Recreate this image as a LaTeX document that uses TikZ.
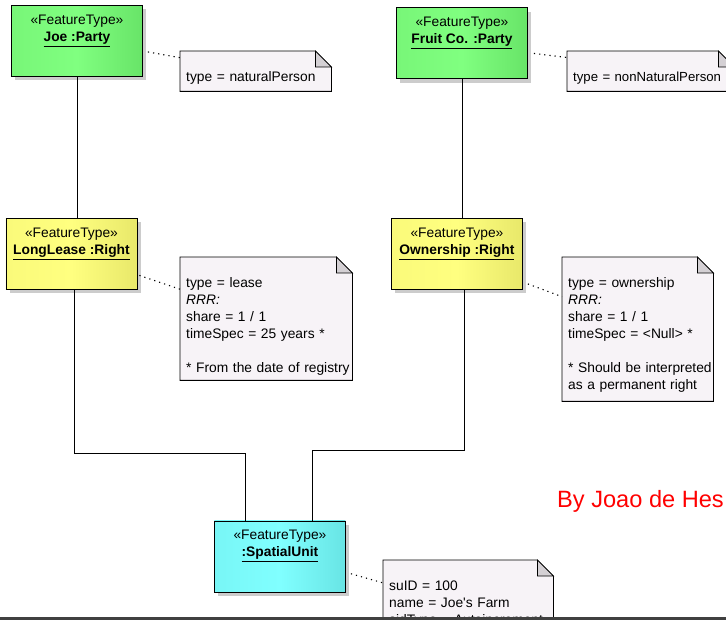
\documentclass[tikz,border=0pt]{standalone}
\usepackage{fontspec}
\setmainfont{Liberation Sans}
\usepackage{tikz}
\usetikzlibrary{shadows}
\usepackage{xcolor}
\definecolor{partyfill}{RGB}{128, 255, 128}
\definecolor{partyleft}{RGB}{120, 246, 120}
\definecolor{partyright}{RGB}{104, 228, 104}
\definecolor{rightfill}{RGB}{255, 255, 128}
\definecolor{rightleft}{RGB}{250, 250, 122}
\definecolor{rightright}{RGB}{232, 232, 106}
\definecolor{unitfill}{RGB}{128, 255, 255}
\definecolor{unitleft}{RGB}{120, 246, 246}
\definecolor{unitright}{RGB}{104, 228, 228}
\definecolor{notefill}{RGB}{247, 243, 247}
\definecolor{foldgray}{RGB}{212, 208, 212}
\newcommand{\umlfont}{\fontsize{13.8}{17}\selectfont}
\newcommand{\feature}[1]{\rule{0pt}{19pt}«FeatureType»\\\underline{\textbf{#1}}\rule[-35pt]{0pt}{35pt}}
\newcommand{\dogear}[1]{%
    \fill[white] ([shift={(-16,0)}]#1.north east) -- ([shift={(0.6,-0.6)}]#1.north east) -- ([shift={(0,16)}]#1.north east) -- cycle;
    \draw[line width=0.8pt] (#1.north west) -- ([shift={(-16,0)}]#1.north east) -- ([shift={(0,16)}]#1.north east) -- (#1.south east) -- (#1.south west) -- cycle;
    \filldraw[fill=foldgray, line width=0.8pt] ([shift={(-16,0)}]#1.north east) -- ([shift={(-16,16)}]#1.north east) -- ([shift={(0,16)}]#1.north east) -- cycle;}

\begin{document}
\begin{tikzpicture}[
            x=1pt, y=-1pt,
            box/.style={
                rectangle,
                draw=black,
                line width=0.9pt,
                left color=#1left,
                right color=#1right,
                middle color=#1fill,
                minimum width=131pt,
                inner xsep=3pt,
                inner ysep=0pt,
                anchor=north west,
                align=center,
                font=\umlfont,
                drop shadow={shadow xshift=4pt, shadow yshift=-4pt, fill=black!50, opacity=0.4}
            },
            note/.style={
                fill=notefill,
                anchor=north west,
                inner xsep=6pt,
                inner ysep=0pt,
                text width=#1,
                align=left,
                font=\umlfont
            },
            link/.style={draw=black, line width=0.8pt},
            notelink/.style={draw=black, line width=1.1pt, dash pattern=on 1.2pt off 4pt}
        ]
            \useasboundingbox (0,0) rectangle (726,620);
            \clip (0,0) rectangle (726,620);

            % Nodes
            \node[box=party] (joe) at (11,5) {\feature{Joe :Party}};
            \node[box=party] (fruit) at (396,7.5) {\feature{Fruit Co. :Party}};
            \node[box=right] (lease) at (5.5,218) {\feature{LongLease :Right}};
            \node[box=right] (own) at (391,218) {\feature{Ownership :Right}};
            \node[box=unit] (spatial) at (214,520.5) {\feature{:SpatialUnit}};

            % Notes
            \node[note=139pt] (joenote) at (180,51) {\rule{0pt}{30pt}type = naturalPerson\rule[-10pt]{0pt}{10pt}};
            \node[note=155pt, font=\fontsize{13.2}{17}\selectfont] (fruitnote) at (567,51) {\rule{0pt}{30pt}type = nonNaturalPerson\rule[-10pt]{0pt}{10pt}};
            \node[note=160pt] (leasenote) at (180,257) {\rule{0pt}{30pt}type = lease\\
                \textit{RRR:}\\
                share = 1 / 1\\
                timeSpec = 25 years *\\
                \mbox{}\\
                \mbox{{*} From the date of registry}\rule[-8pt]{0pt}{8pt}};
            \node[note=139pt] (ownnote) at (562,257) {\rule{0pt}{30pt}type = ownership\\
                \textit{RRR:}\\
                share = 1 / 1\\
                timeSpec = <Null> *\\
                \mbox{}\\
                \mbox{{*} Should be interpreted}\\
                as a permanent right\rule[-12pt]{0pt}{12pt}};
            \node[note=158pt] (spatialnote) at (383,560) {\rule{0pt}{30pt}suID = 100\\
                name = Joe\textquotesingle s Farm\\
                sidType = Autoincrement\rule[-10pt]{0pt}{10pt}};
            \dogear{joenote}
            \dogear{fruitnote}
            \dogear{leasenote}
            \dogear{ownnote}
            \dogear{spatialnote}

            \node[anchor=base west, inner sep=0pt, text=red, font=\fontsize{23.6}{28}\selectfont] (author) at (557,507) {By Joao de Hes};

            % Links
            \draw[link] (joe.south) -- (joe.south |- lease.north);
            \draw[link] (fruit.south) -- (fruit.south |- own.north);
            \draw[link] ([shift={(3,0)}]lease.south) -- ++(0,163) -| ([shift={(-35,0)}]spatial.north);
            \draw[link] ([shift={(7,0)}]own.south) -- ++(0,160.5) -| ([shift={(32,0)}]spatial.north);

            \draw[notelink] ([shift={(5,11)}]joe.east) -- ([shift={(0,-13.5)}]joenote.west);
            \draw[notelink] ([shift={(6,10)}]fruit.east) -- ([shift={(0,-13.7)}]fruitnote.west);
            \draw[notelink] ([shift={(2,21.5)}]lease.east) -- ([shift={(0,-29.5)}]leasenote.west);
            \draw[notelink] ([shift={(5,30)}]own.east) -- ([shift={(0,-32.5)}]ownnote.west);
            \draw[notelink] ([shift={(5,17.3)}]spatial.east) -- ([shift={(0,-14.3)}]spatialnote.west);

            \fill[black!75] (0,617) rectangle (726,620);
        \end{tikzpicture}
\end{document}
